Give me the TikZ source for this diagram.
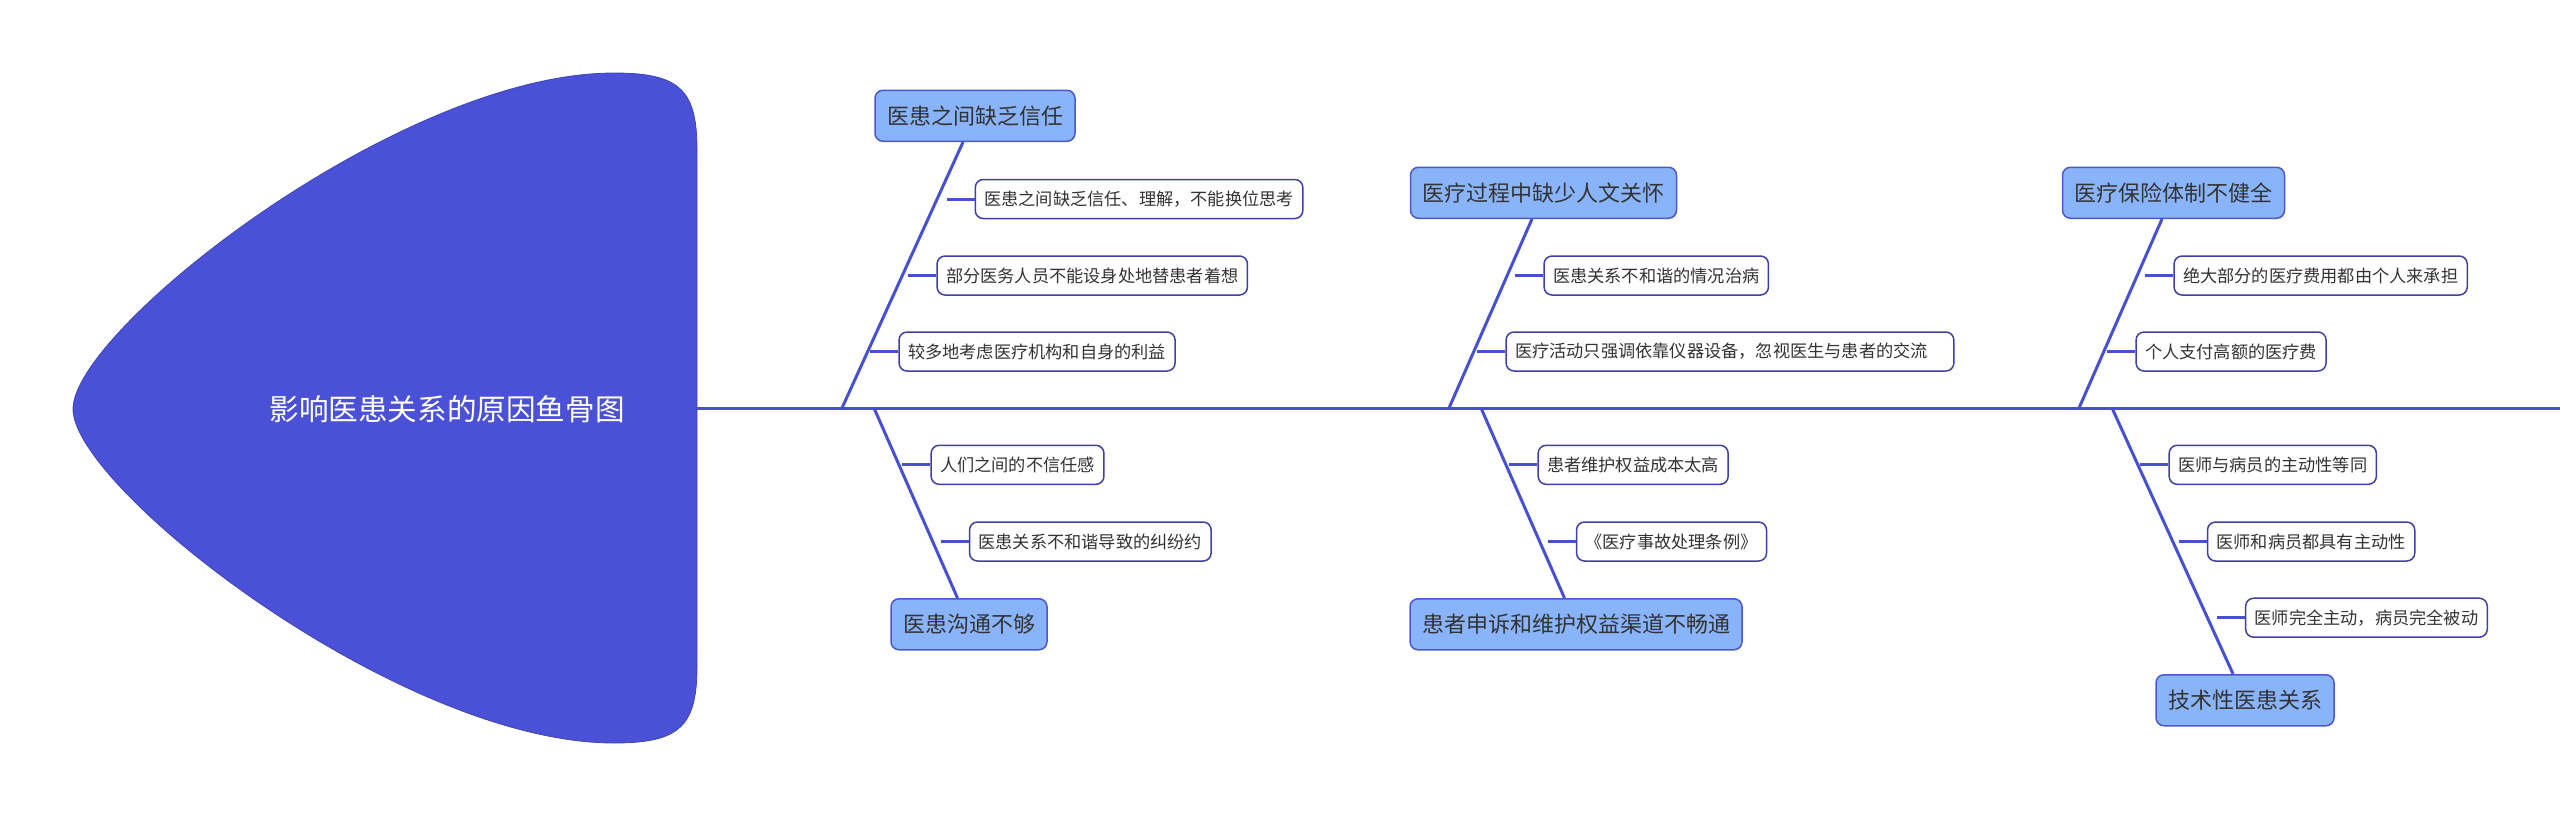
\documentclass[tikz,border=0pt]{standalone}
\usepackage{fontspec}
\newfontfamily\cjk{Noto Sans CJK SC}
\usepackage{xcolor}
\usepackage{tikz}
\usetikzlibrary{positioning,calc}
\definecolor{headblue}{HTML}{4A51D6}
\definecolor{boneblue}{HTML}{4650D0}
\definecolor{topicfill}{HTML}{8AB4F9}
\definecolor{topicedge}{HTML}{4B56D0}
\definecolor{subedge}{HTML}{3F3FAA}
\definecolor{txt}{HTML}{333333}

\begin{document}
\begin{tikzpicture}[
  x=1pt, y=-1pt,
  head/.style={fill=headblue, draw=headblue!85!black, line width=0.8pt},
  spine/.style={draw=boneblue, line width=3pt},
  bone/.style={draw=boneblue, line width=3pt},
  topic/.style={draw=topicedge, fill=topicfill, line width=1.5pt, rounded corners=8pt,
    minimum height=51pt, inner xsep=12pt, inner ysep=0pt, text=txt,
    font=\cjk\fontsize{22pt}{26pt}\selectfont},
  sub/.style={draw=subedge, fill=white, line width=1.5pt, rounded corners=8pt,
    minimum height=39pt, inner xsep=9pt, inner ysep=0pt, text=txt,
    font=\cjk\fontsize{17.2pt}{20pt}\selectfont},
  title/.style={text=white, font=\cjk\fontsize{29.6pt}{34pt}\selectfont}
]
  \useasboundingbox (0,0) rectangle (2560,817);
  % fish head
  \path[head] (614,73) .. controls (400,73) and (73,330) .. (73,409)
    .. controls (73,488) and (400,743) .. (614,743)
    .. controls (680,743) and (697,726) .. (697,666)
    -- (697,150) .. controls (697,90) and (680,73) .. (614,73) -- cycle;
  \node[title] (title) at (447,409) {影响医患关系的原因鱼骨图};
  % spine
  \coordinate (headend) at (697,408);
  \coordinate (tail) at (2560,408);
  \draw[spine] (headend) -- (tail);
  % where the bones leave the spine
  \coordinate (s1) at (842,408);
  \coordinate (s2) at (874,408);
  \coordinate (s3) at (1449,408);
  \coordinate (s4) at (1481,408);
  \coordinate (s5) at (2079,408);
  \coordinate (s6) at (2112,408);
  % main causes
  \node[topic, anchor=south] (t1) at (975,142) {医患之间缺乏信任};
  \node[topic, anchor=north] (t2) at (969,598) {医患沟通不够};
  \node[topic, anchor=south] (t3) at (1543.5,219) {医疗过程中缺少人文关怀};
  \node[topic, anchor=north] (t4) at (1576,598) {患者申诉和维护权益渠道不畅通};
  \node[topic, anchor=south] (t5) at (2173.5,219) {医疗保险体制不健全};
  \node[topic, anchor=north] (t6) at (2245,674) {技术性医患关系};
  \foreach \k in {1,...,6} {
    \draw[bone] (s\k) -- (t\k);
  }
  % junctions on the bones
  \coordinate (j11) at (946.5,199);
  \coordinate (j12) at (908.3,275.5);
  \coordinate (j13) at (870.3,351.5);
  \coordinate (j21) at (902.4,464.8);
  \coordinate (j22) at (940.8,541.5);
  \coordinate (j31) at (1515.3,275.5);
  \coordinate (j32) at (1477.3,351.5);
  \coordinate (j41) at (1509.4,464.8);
  \coordinate (j42) at (1547.8,541.5);
  \coordinate (j51) at (2145.3,275.5);
  \coordinate (j52) at (2107.3,351.5);
  \coordinate (j61) at (2140.4,464.8);
  \coordinate (j62) at (2178.8,541.5);
  \coordinate (j63) at (2216.9,617.7);
  % sub causes
  \node[sub, right=28pt of j11] (u11) {医患之间缺乏信任、理解，不能换位思考};
  \node[sub, right=28pt of j12] (u12) {部分医务人员不能设身处地替患者着想};
  \node[sub, right=28pt of j13] (u13) {较多地考虑医疗机构和自身的利益};
  \node[sub, right=28pt of j21] (u21) {人们之间的不信任感};
  \node[sub, right=28pt of j22] (u22) {医患关系不和谐导致的纠纷约};
  \node[sub, right=28pt of j31] (u31) {医患关系不和谐的情况治病};
  \node[sub, right=28pt of j32] (u32) {医疗活动只强调依靠仪器设备，忽视医生与患者的交流\hspace*{17pt}};
  \node[sub, right=28pt of j41] (u41) {患者维护权益成本太高};
  \node[sub, right=28pt of j42] (u42) {《医疗事故处理条例》};
  \node[sub, right=28pt of j51] (u51) {绝大部分的医疗费用都由个人来承担};
  \node[sub, right=28pt of j52] (u52) {个人支付高额的医疗费};
  \node[sub, right=28pt of j61] (u61) {医师与病员的主动性等同};
  \node[sub, right=28pt of j62] (u62) {医师和病员都具有主动性};
  \node[sub, right=28pt of j63] (u63) {医师完全主动，病员完全被动};
  \foreach \u in {11,12,13,21,22,31,32,41,42,51,52,61,62,63} {
    \draw[bone] (j\u) -- (u\u);
  }
\end{tikzpicture}
\end{document}
